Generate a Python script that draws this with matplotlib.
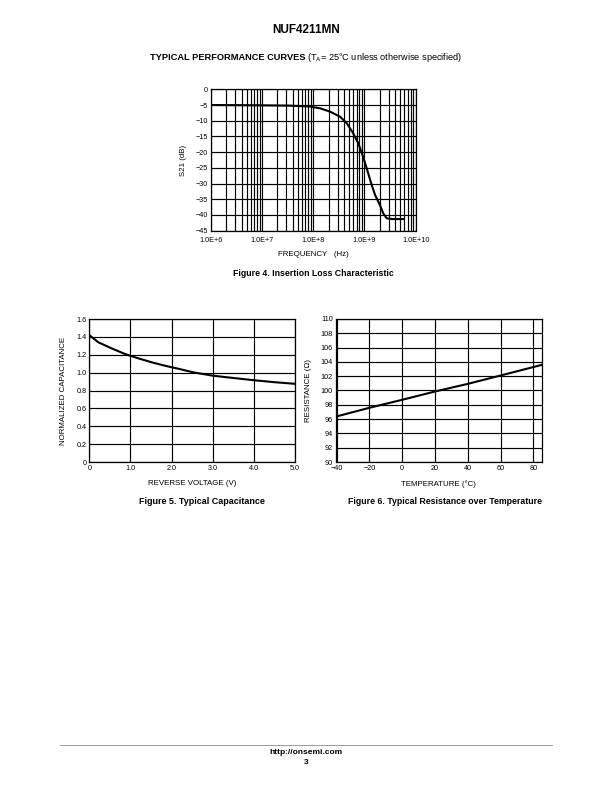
import matplotlib
matplotlib.use("Agg")
import matplotlib.pyplot as plt
import matplotlib.ticker as mticker
import numpy as np

plt.rcParams['font.family'] = ['Liberation Sans', 'DejaVu Sans']

# Figure 4 - insertion loss
freq = [1.0e6, 1.0e7, 3.52e7, 8.65e7, 1.36e8, 2.13e8, 3.33e8, 4.51e8, 6.03e8,
        7.59e8, 8.91e8, 1.10e9, 1.38e9, 1.61e9, 2.0e9, 2.33e9, 2.72e9,
        3.55e9, 5.73e9]
s21 = [-5.0, -5.1, -5.2, -5.5, -6.05, -7.1, -8.7, -10.8, -14.0,
       -17.2, -20.3, -25.0, -30.4, -33.6, -36.8, -39.5, -41.05,
       -41.3, -41.3]
freq_labels = ['1.0E+6', '1.0E+7', '1.0E+8', '1.0E+9', '1.0E+10']

# Figure 5 - capacitance
volt = [0.0, 0.22, 0.54, 0.87, 1.19, 1.52, 1.84, 2.16, 2.53, 3.0, 3.5, 4.0, 4.5, 5.0]
cap = [1.42, 1.339, 1.272, 1.208, 1.16, 1.115, 1.077, 1.044, 1.003, 0.966,
       0.94, 0.915, 0.893, 0.875]

# Figure 6 - resistance
temp = [-40, -20, 0, 20, 40, 60, 85]
res = [96.37, 97.58, 98.7, 99.86, 100.93, 102.1, 103.58]

W, H = 612, 792
fig = plt.figure(figsize=(W / 100, H / 100), dpi=100)


def px_axes(x0, y0, x1, y1):
    # pixel box (left, top, right, bottom) -> figure axes
    return fig.add_axes([x0 / W, 1 - y1 / H, (x1 - x0) / W, (y1 - y0) / H])


def style(ax):
    for s in ax.spines.values():
        s.set_linewidth(0.9)
    ax.tick_params(which='both', length=0, labelsize=5.2, pad=2)
    ax.set_axisbelow(True)


tfs = 5.7
lw_curve = 1.5
lw_grid = 0.85

# ---- Figure 4 ----
ax4 = px_axes(210.7, 89.3, 415.7, 230.7)
ax4.set_xscale('log')
ax4.set_xlim(1e6, 1e10)
ax4.set_ylim(-45, 0)
ax4.set_yticks(np.arange(-45, 1, 5))
ax4.xaxis.set_major_locator(mticker.FixedLocator([1e6, 1e7, 1e8, 1e9, 1e10]))
ax4.xaxis.set_major_formatter(mticker.FixedFormatter(freq_labels))
ax4.xaxis.set_minor_locator(mticker.LogLocator(base=10, subs=np.arange(2, 10)))
ax4.xaxis.set_minor_formatter(mticker.NullFormatter())
ax4.grid(True, which='both', color='black', linewidth=lw_grid)
ax4.plot(freq, s21, color='black', linewidth=lw_curve)
style(ax4)
ax4.tick_params(axis='x', pad=4.5)
ax4.set_xlabel('FREQUENCY   (Hz)', fontsize=tfs, labelpad=5)
ax4.set_ylabel('S21 (dB)', fontsize=tfs, labelpad=6)

# ---- Figure 5 ----
ax5 = px_axes(89.3, 319, 295, 462)
ax5.set_xlim(0, 5)
ax5.set_ylim(0, 1.6)
ax5.set_xticks([0, 1, 2, 3, 4, 5])
ax5.set_xticklabels(['0', '1.0', '2.0', '3.0', '4.0', '5.0'])
ax5.set_yticks(np.arange(0, 1.61, 0.2))
ax5.set_yticklabels(['0', '0.2', '0.4', '0.6', '0.8', '1.0', '1.2', '1.4', '1.6'])
ax5.grid(True, color='black', linewidth=lw_grid)
ax5.plot(volt, cap, color='black', linewidth=lw_curve)
style(ax5)
ax5.set_xlabel('REVERSE VOLTAGE (V)', fontsize=tfs, labelpad=6)
ax5.set_ylabel('NORMALIZED CAPACITANCE', fontsize=tfs, labelpad=7)

# ---- Figure 6 ----
ax6 = px_axes(335.7, 319, 541.7, 462)
ax6.set_xlim(-40.5, 85)
ax6.set_ylim(90, 110)
ax6.set_xticks([-40, -20, 0, 20, 40, 60, 80])
ax6.set_yticks(np.arange(90, 111, 2))
ax6.grid(True, color='black', linewidth=lw_grid)
ax6.plot(temp, res, color='black', linewidth=lw_curve)
style(ax6)
ax6.set_xlabel('TEMPERATURE (°C)', fontsize=tfs, labelpad=6)
ax6.set_ylabel('RESISTANCE (Ω)', fontsize=tfs, labelpad=6)

# ---- page text ----
fig.text(306 / W, 1 - 30 / H, 'NUF4211MN', ha='center', va='center',
         fontsize=8.5, fontweight='bold')
fig.text(305 / W, 1 - 57 / H, 'TYPICAL PERFORMANCE CURVES', ha='right',
         va='center', fontsize=6.7, fontweight='bold')
fig.text(307 / W, 1 - 57 / H,
         r'$\mathregular{(T_A}$= 25°C unless otherwise specified)',
         ha='left', va='center', fontsize=6.6)
fig.text(313 / W, 1 - 273 / H, 'Figure 4. Insertion Loss Characteristic',
         ha='center', va='center', fontsize=6.3, fontweight='bold')
fig.text(202 / W, 1 - 502 / H, 'Figure 5. Typical Capacitance',
         ha='center', va='center', fontsize=6.5, fontweight='bold')
fig.text(445 / W, 1 - 502 / H, 'Figure 6. Typical Resistance over Temperature',
         ha='center', va='center', fontsize=6.3, fontweight='bold')
fig.add_artist(plt.Line2D([60 / W, 552 / W], [1 - 745 / H, 1 - 745 / H],
                          color='#888888', linewidth=0.6))
fig.text(306 / W, 1 - 752 / H, 'http://onsemi.com', ha='center', va='center',
         fontsize=6, fontweight='bold')
fig.text(306 / W, 1 - 762 / H, '3', ha='center', va='center',
         fontsize=6, fontweight='bold')

fig.savefig('out.png', dpi=100)
